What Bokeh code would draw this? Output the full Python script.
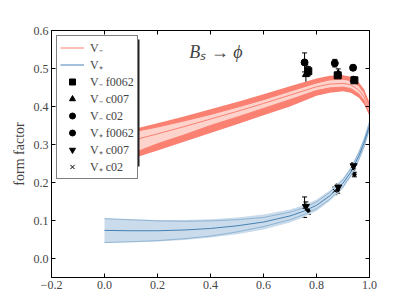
from bokeh.plotting import figure
from bokeh.models import (ColumnDataSource, Whisker, TeeHead, Legend, LegendItem,
                          LinearAxis, Label, FixedTicker, Range1d, BoxAnnotation)
from bokeh.embed import file_html
from bokeh.resources import INLINE

# ---------------- data ----------------
t_red = [0.0, 0.1, 0.2, 0.3, 0.4, 0.5, 0.6, 0.7, 0.8, 0.85, 0.9, 0.93, 0.96, 0.98, 1.0]
red_center = [0.292, 0.310, 0.328, 0.347, 0.367, 0.387, 0.408, 0.430, 0.452, 0.459, 0.461, 0.457, 0.443, 0.425, 0.392]
red_out_hi = [0.322, 0.339, 0.356, 0.374, 0.393, 0.412, 0.432, 0.453, 0.474, 0.481, 0.482, 0.478, 0.463, 0.445, 0.410]
red_out_lo = [0.238, 0.262, 0.284, 0.307, 0.330, 0.353, 0.377, 0.400, 0.428, 0.436, 0.440, 0.436, 0.423, 0.405, 0.375]
red_in_hi = [0.318, 0.332, 0.346, 0.362, 0.379, 0.398, 0.418, 0.440, 0.462, 0.470, 0.472, 0.468, 0.454, 0.436, 0.400]
red_in_lo = [0.245, 0.275, 0.302, 0.325, 0.350, 0.372, 0.395, 0.418, 0.442, 0.449, 0.451, 0.447, 0.433, 0.415, 0.382]

t_blue = [0.0, 0.1, 0.2, 0.3, 0.4, 0.5, 0.6, 0.7, 0.75, 0.8, 0.85, 0.9, 0.93, 0.96, 0.98, 1.0]
blue_center = [0.074, 0.073, 0.073, 0.075, 0.079, 0.086, 0.096, 0.112, 0.124, 0.140, 0.165, 0.198, 0.228, 0.270, 0.305, 0.350]
blue_out_hi = [0.106, 0.103, 0.101, 0.101, 0.103, 0.108, 0.116, 0.129, 0.140, 0.155, 0.179, 0.212, 0.242, 0.284, 0.319, 0.364]
blue_out_lo = [0.041, 0.043, 0.045, 0.049, 0.055, 0.064, 0.076, 0.095, 0.108, 0.125, 0.151, 0.184, 0.214, 0.256, 0.291, 0.336]
blue_in_hi = [0.105, 0.102, 0.099, 0.098, 0.099, 0.102, 0.108, 0.122, 0.133, 0.149, 0.174, 0.207, 0.237, 0.279, 0.314, 0.359]
blue_in_lo = [0.042, 0.044, 0.047, 0.052, 0.059, 0.070, 0.084, 0.102, 0.115, 0.131, 0.156, 0.189, 0.219, 0.261, 0.296, 0.341]

vm_f0062_t = [0.769, 0.880, 0.943]
vm_f0062_v = [0.493, 0.482, 0.469]
vm_f0062_e = [0.012, 0.008, 0.006]
vm_c007_t = [0.760, 0.882, 0.940]
vm_c007_v = [0.484, 0.487, 0.470]
vm_c007_e = [0.025, 0.012, 0.008]
vm_c02_t = [0.755, 0.869, 0.938]
vm_c02_v = [0.516, 0.514, 0.502]
vm_c02_e = [0.025, 0.010, 0.007]

vp_f0062_t = [0.769, 0.880, 0.943]
vp_f0062_v = [0.126, 0.180, 0.221]
vp_f0062_e = [0.010, 0.008, 0.006]
vp_c007_t = [0.760, 0.882, 0.940]
vp_c007_v = [0.137, 0.188, 0.244]
vp_c007_e = [0.012, 0.008, 0.008]
vp_c02_t = [0.755, 0.869, 0.938]
vp_c02_v = [0.135, 0.178, 0.236]
vp_c02_e = [0.027, 0.010, 0.010]

x_ticks = [-0.2, 0.0, 0.2, 0.4, 0.6, 0.8, 1.0]
y_ticks = [0.0, 0.1, 0.2, 0.3, 0.4, 0.5, 0.6]

SALMON = "#fa8072"
PINK = "#fdd3cc"
BLUE = "#4682b4"
LBLUE = "#cadbeb"
FONT = "Liberation Serif"

p = figure(frame_width=318, frame_height=247, output_backend="svg", toolbar_location=None,
           x_range=Range1d(-0.2, 1.0), y_range=Range1d(-0.05, 0.6),
           min_border_left=51, min_border_right=42, min_border_top=30, min_border_bottom=31)
p.grid.visible = False
p.outline_line_color = "black"
p.outline_line_width = 1

# bands
p.varea(x=t_red, y1=red_out_lo, y2=red_out_hi, fill_color=SALMON)
p.varea(x=t_red, y1=red_in_lo, y2=red_in_hi, fill_color=PINK)
p.line(t_red, red_in_hi, line_color=SALMON, line_width=1)
p.line(t_red, red_in_lo, line_color=SALMON, line_width=1)
r_vm = p.line(t_red, red_center, line_color=SALMON, line_width=1)

p.varea(x=t_blue, y1=blue_out_lo, y2=blue_out_hi, fill_color=LBLUE)
p.line(t_blue, blue_in_hi, line_color=BLUE, line_width=0.8, line_alpha=0.55)
p.line(t_blue, blue_in_lo, line_color=BLUE, line_width=0.8, line_alpha=0.55)
r_vp = p.line(t_blue, blue_center, line_color=BLUE, line_width=1)

def series(tt, vv, ee, marker, size):
    src = ColumnDataSource(dict(x=tt, y=vv, lo=[a - b for a, b in zip(vv, ee)],
                                hi=[a + b for a, b in zip(vv, ee)]))
    w = Whisker(source=src, base="x", lower="lo", upper="hi", line_color="black", line_width=1,
                upper_head=TeeHead(size=5, line_color="black"),
                lower_head=TeeHead(size=5, line_color="black"))
    p.add_layout(w)
    return p.scatter("x", "y", source=src, marker=marker, size=size,
                     fill_color="black", line_color="black")

r1 = series(vm_f0062_t, vm_f0062_v, vm_f0062_e, "square", 7)
r2 = series(vm_c007_t, vm_c007_v, vm_c007_e, "triangle", 7)
r3 = series(vm_c02_t, vm_c02_v, vm_c02_e, "circle", 7)
r4 = series(vp_f0062_t, vp_f0062_v, vp_f0062_e, "circle", 3.5)
r5 = series(vp_c007_t, vp_c007_v, vp_c007_e, "inverted_triangle", 7)
r6 = series(vp_c02_t, vp_c02_v, vp_c02_e, "x", 5)

# legend shadow (screen units: x from frame left, y from frame bottom)
p.add_layout(BoxAnnotation(left=8, right=88, top=238, bottom=111,
                           left_units="screen", right_units="screen",
                           top_units="screen", bottom_units="screen",
                           fill_color="#222222", fill_alpha=1.0, line_color=None))

legend = Legend(items=[
    LegendItem(label="V₋", renderers=[r_vm]),
    LegendItem(label="V₊", renderers=[r_vp]),
    LegendItem(label="V₋ f0062", renderers=[r1]),
    LegendItem(label="V₋ c007", renderers=[r2]),
    LegendItem(label="V₋ c02", renderers=[r3]),
    LegendItem(label="V₊ f0062", renderers=[r4]),
    LegendItem(label="V₊ c007", renderers=[r5]),
    LegendItem(label="V₊ c02", renderers=[r6]),
], location="top_left")
legend.margin = 5
legend.padding = 3
legend.spacing = 0
legend.glyph_height = 15
legend.label_height = 15
legend.glyph_width = 24
legend.label_standoff = 6
legend.label_text_font = FONT
legend.label_text_font_size = "12px"
legend.label_text_line_height = 1.0
legend.border_line_color = "black"
legend.border_line_width = 1
legend.background_fill_alpha = 1
p.add_layout(legend)

p.add_layout(Label(x=0.42, y=0.543, text="Bₛ → ϕ", text_font=FONT, text_font_style="italic",
                   text_font_size="18px", text_align="center", text_baseline="middle"))

# axes styling
for ax in [p.xaxis[0], p.yaxis[0]]:
    ax.major_tick_in = 4
    ax.major_tick_out = 0
    ax.minor_tick_line_color = None
    ax.major_label_text_font = FONT
    ax.major_label_text_font_size = "12px"
    ax.axis_label_text_font = FONT
    ax.axis_label_text_font_style = "normal"
    ax.axis_label_text_font_size = "14px"
    ax.major_label_standoff = 3
    ax.axis_label_standoff = 4

p.xaxis[0].ticker = FixedTicker(ticks=x_ticks)
p.yaxis[0].ticker = FixedTicker(ticks=y_ticks)
p.xaxis[0].major_label_overrides = {v: ("−0.2" if v < 0 else f"{v:.1f}") for v in x_ticks}
p.yaxis[0].major_label_overrides = {v: f"{v:.1f}" for v in y_ticks}
p.yaxis[0].axis_label = "form factor"

# x-axis title placed just under the tick labels
p.add_layout(Label(x=0.4, y=-0.05, y_offset=-12, text="t/t₋", text_font=FONT,
                   text_font_style="italic", text_font_size="14px",
                   text_align="center", text_baseline="top"))

for loc in ["right", "above"]:
    ax = LinearAxis(ticker=FixedTicker(ticks=x_ticks if loc == "above" else y_ticks))
    ax.major_label_text_color = None
    ax.major_label_overrides = {v: "" for v in (x_ticks if loc == "above" else y_ticks)}
    ax.major_label_standoff = 0
    ax.major_tick_in = 4
    ax.major_tick_out = 0
    ax.minor_tick_line_color = None
    p.add_layout(ax, loc)

open("out.html", "w").write(file_html(p, INLINE))
